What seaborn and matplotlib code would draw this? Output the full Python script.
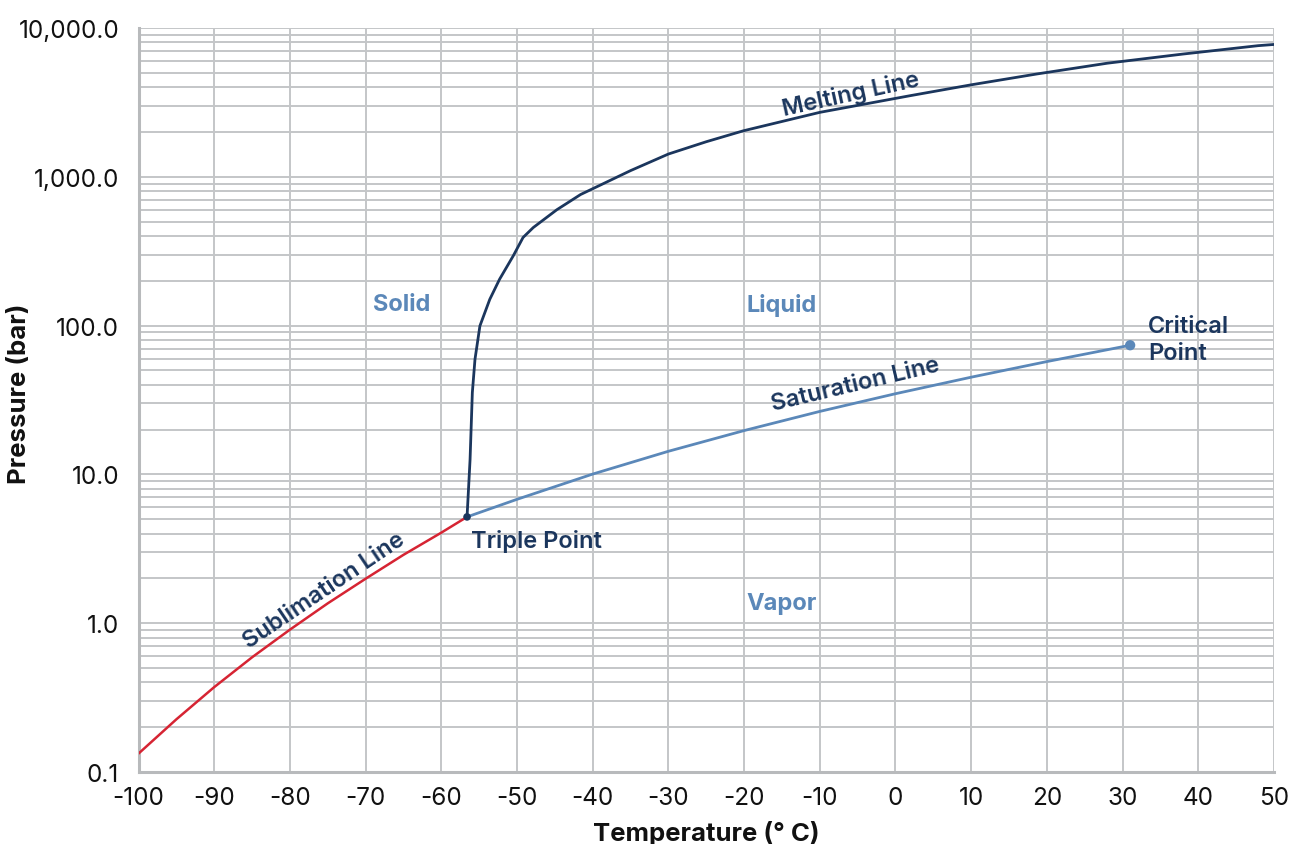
import numpy as np
import pandas as pd
import matplotlib
matplotlib.use('Agg')
import matplotlib.pyplot as plt
import matplotlib.ticker as mticker
import seaborn as sns

# CO2 phase diagram values
subl_t = [-100, -95, -90, -85, -80, -75, -70, -65, -60, -56.6]
subl_p = [0.133, 0.226, 0.372, 0.590, 0.905, 1.36, 1.99, 2.88, 4.06, 5.18]

sat_t = [-56.6, -50, -40, -30, -20, -10, 0, 10, 20, 30, 31.0]
sat_p = [5.18, 6.8, 10.05, 14.3, 19.7, 26.5, 34.85, 45.0, 57.3, 72.1, 73.8]

melt_t = [-56.6, -56.2, -55.9, -55.55, -54.9, -53.6, -52.3, -50.5, -49.2, -47.85,
          -44.75, -41.6, -35, -30, -25, -20.1, -10, 1.9, 10, 18.65, 28, 38, 47.9, 50]
melt_p = [5.18, 12.6, 35.5, 59.4, 99.5, 150, 205, 294, 391, 456,
          600, 760, 1100, 1422, 1720, 2037, 2710, 3505, 4150, 4906, 5800, 6683, 7605, 7750]

points_t = [-56.6, 31.0]
points_p = [5.18, 73.8]
points_name = ['Triple Point', 'Critical Point']

y_ticks = [0.1, 1, 10, 100, 1000, 10000]
y_labels = ['0.1', '1.0', '10.0', '100.0', '1,000.0', '10,000.0']
x_ticks = list(range(-100, 51, 10))

NAVY = '#1b365d'
STEEL = '#5b88b9'
RED = '#d62433'
GRID = '#c4c6c8'

sns.set_style('white')
plt.rcParams['font.family'] = ['Inter', 'DejaVu Sans']
plt.rcParams['axes.unicode_minus'] = False


def main():
    fig = plt.figure(figsize=(12.91, 8.45), dpi=100)
    ax = fig.add_axes([0.1073, 0.0852, 0.9868 - 0.1073, 0.9657 - 0.0852])

    ax.set_yscale('log')
    ax.set_xlim(-100, 50)
    ax.set_ylim(0.1, 10000)

    sns.lineplot(data=pd.DataFrame({'t': subl_t, 'p': subl_p}), x='t', y='p',
                 sort=False, estimator=None, color=RED, lw=1.8, ax=ax, zorder=3)
    sns.lineplot(data=pd.DataFrame({'t': sat_t, 'p': sat_p}), x='t', y='p',
                 sort=False, estimator=None, color=STEEL, lw=2.0, ax=ax, zorder=3)
    sns.lineplot(data=pd.DataFrame({'t': melt_t, 'p': melt_p}), x='t', y='p',
                 sort=False, estimator=None, color=NAVY, lw=2.0, ax=ax, zorder=4)
    pts = pd.DataFrame({'t': points_t, 'p': points_p, 'name': points_name})
    sns.scatterplot(data=pts, x='t', y='p', hue='name', palette=[NAVY, STEEL],
                    size='name', sizes=[30, 55], legend=False, edgecolor='none',
                    ax=ax, zorder=5)

    # grid
    ax.xaxis.set_major_locator(mticker.FixedLocator(x_ticks))
    ax.xaxis.set_minor_locator(mticker.MultipleLocator(1))
    ax.yaxis.set_major_locator(mticker.FixedLocator(y_ticks))
    ax.yaxis.set_major_formatter(mticker.FixedFormatter(y_labels))
    ax.yaxis.set_minor_locator(mticker.LogLocator(base=10, subs=np.arange(2, 10)))
    ax.yaxis.set_minor_formatter(mticker.NullFormatter())
    ax.grid(which='major', axis='both', color=GRID, lw=1.4)
    ax.grid(which='minor', axis='y', color=GRID, lw=1.4)
    ax.set_axisbelow(True)

    ax.tick_params(axis='both', which='major', direction='out', length=5,
                   width=1.4, color=GRID, labelsize=17.5, labelcolor='#111111')
    ax.tick_params(axis='y', which='major', pad=9)
    ax.tick_params(axis='x', which='major', pad=5)
    ax.tick_params(axis='x', which='minor', direction='in', length=3, width=1,
                   color=GRID)
    ax.tick_params(axis='y', which='minor', length=0)
    for s in ['top', 'right']:
        ax.spines[s].set_visible(False)
    for s in ['left', 'bottom']:
        ax.spines[s].set_color('#b8babc')
        ax.spines[s].set_linewidth(2.2)

    ax.set_xlabel('Temperature (° C)', fontsize=18.5, fontweight='bold',
                  color='#111111', labelpad=8)
    ax.set_ylabel('Pressure (bar)', fontsize=18.5, fontweight='bold',
                  color='#111111')
    ax.yaxis.set_label_coords(-0.095, 0.51)

    # region labels
    for txt, x, y in [('Solid', -65.3, 139), ('Liquid', -15.1, 139), ('Vapor', -15.1, 1.36)]:
        ax.text(x, y, txt, color=STEEL, fontsize=17, fontweight='bold',
                ha='center', va='center')

    ax.text(-56.1, 3.6, 'Triple Point', color=NAVY, fontsize=17,
            fontweight='semibold', ha='left', va='center')
    ax.text(33.4, 81, 'Critical\nPoint', color=NAVY, fontsize=17,
            fontweight='semibold', ha='left', va='center', linespacing=1.3)

    ax.text(-5.9, 3597, 'Melting Line', color=NAVY, fontsize=17,
            fontweight='semibold', ha='center', va='center', rotation=12.4)
    ax.text(-5.3, 40.4, 'Saturation Line', color=NAVY, fontsize=17,
            fontweight='semibold', ha='center', va='center', rotation=13.4)
    ax.text(-75.5, 1.66, 'Sublimation Line', color=NAVY, fontsize=17,
            fontweight='semibold', ha='center', va='center', rotation=34)

    fig.savefig('out.png', dpi=100)


if __name__ == '__main__':
    main()
